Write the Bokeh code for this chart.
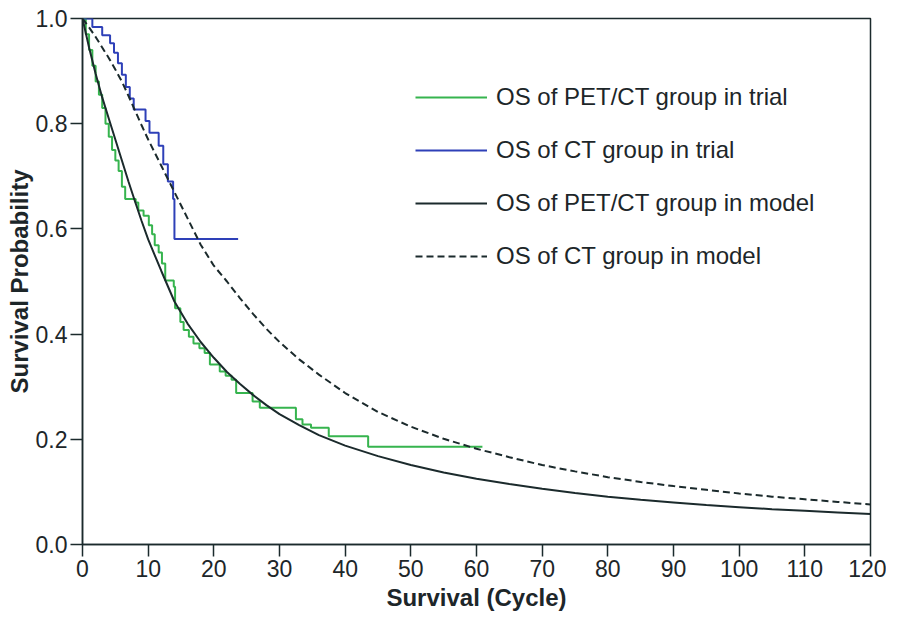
from bokeh.plotting import figure
from bokeh.models import Range1d, FixedTicker, NumeralTickFormatter, Legend, LegendItem
from bokeh.embed import file_html
from bokeh.resources import INLINE

# ---- data ----
x_ticks = [0, 10, 20, 30, 40, 50, 60, 70, 80, 90, 100, 110, 120]
y_ticks = [0.0, 0.2, 0.4, 0.6, 0.8, 1.0]

# Kaplan-Meier: CT group in trial (blue)
ct_trial_time = [0, 1.5, 3.0, 4.2, 4.8, 5.4, 6.0, 6.6, 7.2, 7.8, 9.6, 10.2, 11.6, 12.3, 13.0, 13.8, 14.0, 23.7]
ct_trial_surv = [1.0, 0.984, 0.968, 0.953, 0.935, 0.915, 0.893, 0.870, 0.848, 0.827, 0.805, 0.783, 0.758, 0.723, 0.690, 0.657, 0.581, 0.581]

# Kaplan-Meier: PET/CT group in trial (green)
pet_trial_time = [0, 0.5, 1.0, 1.5, 2.0, 2.5, 3.0, 3.5, 4.0, 4.5, 5.0, 5.5, 6.0, 6.5, 8.1, 8.5, 9.3,
                  10.1, 10.6, 11.0, 11.6, 12.1, 12.6, 13.9, 14.1, 14.9, 15.4, 16.2, 16.9, 17.8, 18.6,
                  19.4, 20.9, 21.8, 22.7, 23.4, 25.9, 27.0, 32.5, 33.5, 34.8, 37.5, 43.5, 60.9]
pet_trial_surv = [1.0, 0.97, 0.94, 0.91, 0.88, 0.855, 0.83, 0.80, 0.775, 0.75, 0.73, 0.71, 0.68, 0.657, 0.650, 0.635, 0.625,
                  0.607, 0.59, 0.569, 0.555, 0.534, 0.502, 0.49, 0.449, 0.423, 0.408, 0.395, 0.382, 0.373, 0.364,
                  0.342, 0.329, 0.321, 0.313, 0.288, 0.272, 0.26, 0.238, 0.228, 0.222, 0.206, 0.186, 0.186]

# Model curves
model_time = [0, 1, 2, 3, 4, 5, 6, 7, 8, 9, 10, 12, 14, 16, 18, 20, 22, 24, 26, 28, 30, 33, 36, 40,
              45, 50, 55, 60, 65, 70, 75, 80, 85, 90, 95, 100, 105, 110, 115, 120]
pet_model_surv = [1.0, 0.945, 0.895, 0.85, 0.81, 0.77, 0.73, 0.69, 0.652, 0.615, 0.58, 0.52, 0.462, 0.42,
                  0.385, 0.355, 0.328, 0.305, 0.284, 0.265, 0.248, 0.227, 0.208, 0.188, 0.168, 0.151,
                  0.137, 0.125, 0.115, 0.106, 0.098, 0.091, 0.085, 0.080, 0.075, 0.071, 0.067, 0.064,
                  0.061, 0.058]
ct_model_surv = [1.0, 0.983, 0.965, 0.945, 0.925, 0.903, 0.88, 0.853, 0.825, 0.797, 0.77, 0.72, 0.67, 0.62,
                 0.57, 0.53, 0.50, 0.468, 0.438, 0.410, 0.385, 0.352, 0.323, 0.288, 0.252, 0.224, 0.201,
                 0.182, 0.166, 0.151, 0.139, 0.128, 0.119, 0.111, 0.104, 0.097, 0.091, 0.086, 0.081, 0.076]

labels = ["OS of PET/CT group in trial", "OS of CT group in trial",
          "OS of PET/CT group in model", "OS of CT group in model"]

GREEN = "#36b44e"
BLUE = "#2e40b8"
DARK = "#1b2a2c"
TEXT = "#1d2629"
FONT = "Liberation Sans"

p = figure(width=886, height=613, output_backend="svg", toolbar_location=None,
           x_range=Range1d(0, 120), y_range=Range1d(0, 1.0),
           min_border_left=82, min_border_right=16, min_border_top=18, min_border_bottom=67)

r_green = p.step(pet_trial_time, pet_trial_surv, mode="after", line_color=GREEN, line_width=2)
r_blue = p.step(ct_trial_time, ct_trial_surv, mode="after", line_color=BLUE, line_width=2)
r_black = p.line(model_time, pet_model_surv, line_color=DARK, line_width=2)
r_dash = p.line(model_time, ct_model_surv, line_color=DARK, line_width=2, line_dash="7 4")

legend = Legend(items=[LegendItem(label=labels[0], renderers=[r_green]),
                       LegendItem(label=labels[1], renderers=[r_blue]),
                       LegendItem(label=labels[2], renderers=[r_black]),
                       LegendItem(label=labels[3], renderers=[r_dash])],
                location=(333, 273), glyph_width=72, glyph_height=30, label_height=30,
                spacing=23, padding=0, margin=0, label_standoff=9,
                label_text_font_size="24px", label_text_font=FONT, label_text_color=TEXT,
                border_line_alpha=0, background_fill_alpha=0)
p.add_layout(legend, "center")

p.grid.visible = False
p.outline_line_color = DARK
p.outline_line_width = 1.5
p.outline_line_alpha = 1

for ax in (p.xaxis[0], p.yaxis[0]):
    ax.axis_line_color = DARK
    ax.axis_line_width = 1.5
    ax.major_tick_line_color = DARK
    ax.major_tick_line_width = 1.5
    ax.major_tick_out = 12
    ax.major_tick_in = 0
    ax.minor_tick_line_color = None
    ax.major_label_text_font = FONT
    ax.major_label_text_font_size = "23px"
    ax.major_label_text_color = TEXT
    ax.axis_label_text_font = FONT
    ax.axis_label_text_font_size = "24px"
    ax.axis_label_text_font_style = "bold"
    ax.axis_label_text_color = TEXT
    ax.major_label_standoff = 3
    ax.axis_label_standoff = 4

p.xaxis.ticker = FixedTicker(ticks=x_ticks)
p.yaxis.ticker = FixedTicker(ticks=y_ticks)
p.yaxis.formatter = NumeralTickFormatter(format="0.0")
p.xaxis.axis_label = "Survival (Cycle)"
p.yaxis.axis_label = "Survival Probability"
p.yaxis.axis_label_standoff = 0

open("out.html", "w").write(file_html(p, INLINE))
